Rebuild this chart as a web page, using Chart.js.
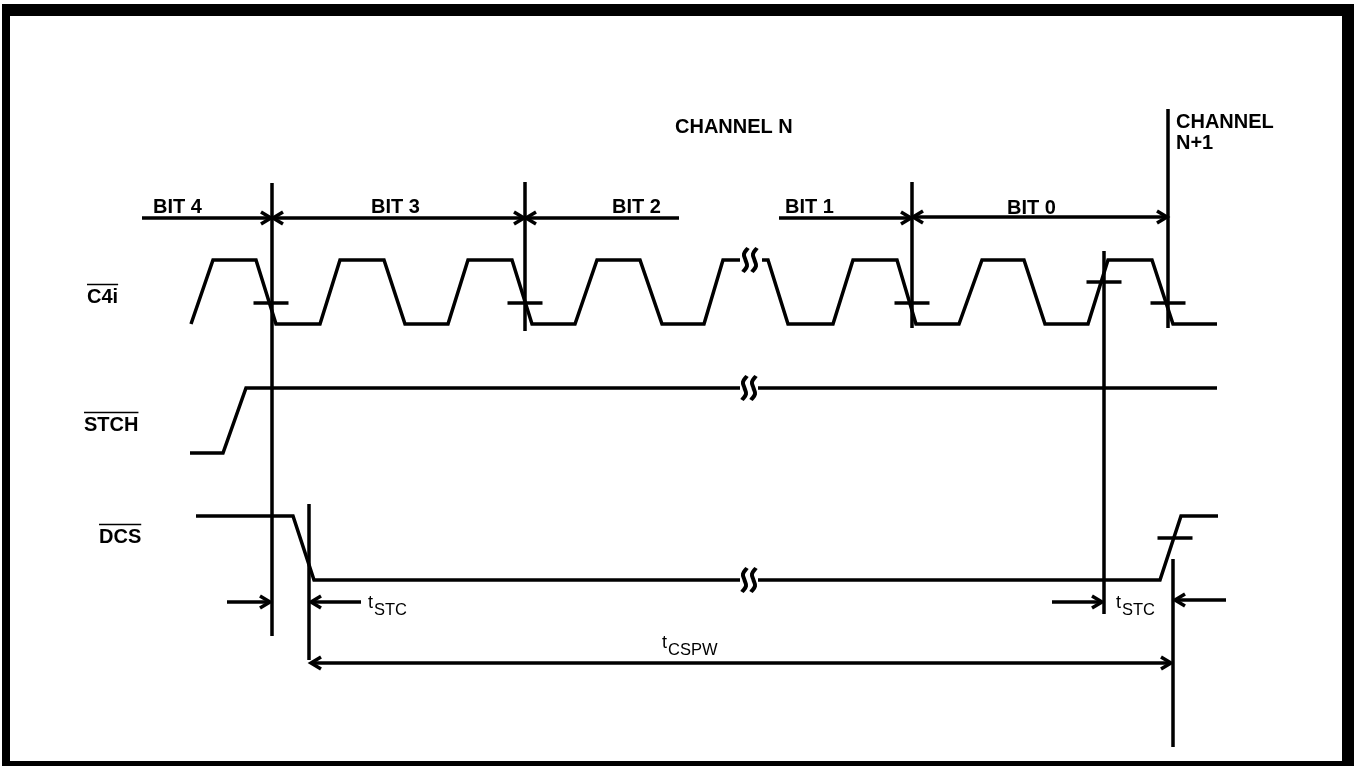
<!DOCTYPE html>
<html>
<head>
<meta charset="utf-8">
<script src="https://cdn.jsdelivr.net/npm/chart.js@4.4.0/dist/chart.umd.min.js"></script>
<style>
    html, body { margin: 0; padding: 0; background: #fff; }
    #wrap { position: relative; width: 1359px; height: 766px; overflow: hidden; }
    #frame {
        position: absolute; left: 2px; top: 4px; right: 5px; bottom: -2px;
        border-style: solid; border-color: #000;
        border-width: 12px 12px 7px 8px;
        pointer-events: none;
    }
    canvas { display: block; }
</style>
</head>
<body>
<div id="wrap">
    <canvas id="timing" width="1359" height="766"></canvas>
    <div id="frame"></div>
</div>
<script>
// Formas de onda: instante de cada flanco y nivel lógico (null = corte "≈")
const c4iTimes  = [191, 213, 256, 276, 320, 340, 384, 405, 448, 468, 512, 532, 575, 597, 640, 662, 704, 723, 740, 751, 762, 768, 788, 833, 853, 897, 916, 959, 982, 1024, 1045, 1088, 1108, 1152, 1173, 1217];
const c4iLevels = [0, 1, 1, 0, 0, 1, 1, 0, 0, 1, 1, 0, 0, 1, 1, 0, 0, 1, 1, null, 1, 1, 0, 0, 1, 1, 0, 0, 1, 1, 0, 0, 1, 1, 0, 0];
const stchTimes  = [190, 223, 246, 740, 749, 758, 1217];
const stchLevels = [0, 0, 1, 1, null, 1, 1];
const dcsTimes  = [196, 293, 314, 740, 749, 758, 1160, 1181, 1218];
const dcsLevels = [1, 1, 0, 0, null, 0, 0, 1, 1];

// Marcas de tiempo verticales
const markerX      = [272, 525, 912, 1104, 1168, 309, 1173];
const markerTop    = [183, 182, 182, 251, 109, 504, 559];
const markerBottom = [636, 331, 328, 614, 328, 660, 747];

// Cruces de umbral (pequeñas rayas horizontales)
const crossX = [271, 525, 912, 1104, 1168, 1175];
const crossY = [303, 303, 303, 282, 303, 538];

// Cotas: altura, desde, hasta, puntas
const dimY    = [218, 218, 218, 218, 217, 602, 602, 602, 600, 663];
const dimFrom = [142, 273, 526, 779, 913, 227, 361, 1052, 1226, 311];
const dimTo   = [271, 524, 679, 911, 1167, 270, 311, 1102, 1175, 1171];
const dimHeads = ['end', 'both', 'start', 'end', 'both', 'end', 'end', 'end', 'end', 'both'];

// Cortes "≈"
const breakX = [750, 749, 749];
const breakY = [260, 388, 580];

// Textos
const bitLabels  = ['BIT 4', 'BIT 3', 'BIT 2', 'BIT 1', 'BIT 0', 'CHANNEL N', 'CHANNEL', 'N+1'];
const signalNames = ['C4i', 'STCH', 'DCS'];
const timeLabels = ['STC', 'STC', 'CSPW'];

// Niveles de cada fila (alto / bajo)
const rows = {
    c4i:  { high: 260, low: 324 },
    stch: { high: 388, low: 453 },
    dcs:  { high: 516, low: 580 }
};

const layout = {
    bitPos:    [[153, 213], [371, 213], [612, 213], [785, 213], [1007, 214], [675, 133], [1176, 128], [1176, 149]],
    signalPos: [[87, 303], [84, 431], [99, 543]],
    timePos:   [[368, 608], [1116, 608], [662, 648]]
};

function wave(times, levels, row) {
    return times.map((t, i) => ({ x: t, y: levels[i] === null ? null : (levels[i] ? row.high : row.low) }));
}

function seg(points, width, tension) {
    return {
        data: points,
        showLine: true,
        borderColor: '#000',
        borderWidth: width || 3,
        pointRadius: 0,
        tension: tension || 0,
        spanGaps: false,
        borderCapStyle: 'butt',
        borderJoinStyle: 'miter'
    };
}

function head(tipX, y, dir) {
    return [{ x: tipX - dir * 10, y: y - 6 }, { x: tipX, y: y }, { x: tipX - dir * 10, y: y + 6 }];
}

const datasets = [];

datasets.push(seg(wave(c4iTimes, c4iLevels, rows.c4i), 3.5));
datasets.push(seg(wave(stchTimes, stchLevels, rows.stch), 3.5));
datasets.push(seg(wave(dcsTimes, dcsLevels, rows.dcs), 3.5));

markerX.forEach((mx, i) => {
    datasets.push(seg([{ x: mx, y: markerTop[i] }, { x: mx, y: markerBottom[i] }], 3.5));
});

crossX.forEach((cx, i) => {
    datasets.push(seg([{ x: cx - 17.5, y: crossY[i] }, { x: cx + 17.5, y: crossY[i] }], 3.5));
});

dimY.forEach((dy, i) => {
    const a = dimFrom[i], b = dimTo[i];
    const dir = b > a ? 1 : -1;
    datasets.push(seg([{ x: a, y: dy }, { x: b, y: dy }], 3.5));
    if (dimHeads[i] === 'end' || dimHeads[i] === 'both') datasets.push(seg(head(b, dy, dir), 3.5));
    if (dimHeads[i] === 'start' || dimHeads[i] === 'both') datasets.push(seg(head(a, dy, -dir), 3.5));
});

// dos "S" por cada corte
const sShape = [[2.5, -12], [-1.5, -6], [0, 0], [1.5, 6], [-2.5, 12]];
breakX.forEach((bx, i) => {
    [-4.5, 4.5].forEach(off => {
        datasets.push(seg(sShape.map(p => ({ x: bx + off + p[0], y: breakY[i] + p[1] })), 4, 0.4));
    });
});

const labelPlugin = {
    id: 'timingLabels',
    afterDatasetsDraw(chart) {
        const { ctx, scales: { x, y } } = chart;
        ctx.save();
        ctx.fillStyle = '#000';
        ctx.strokeStyle = '#000';
        ctx.textBaseline = 'alphabetic';
        ctx.textAlign = 'left';

        ctx.font = 'bold 20px "Liberation Sans", Arial, sans-serif';
        bitLabels.forEach((t, i) => {
            const p = layout.bitPos[i];
            ctx.fillText(t, x.getPixelForValue(p[0]), y.getPixelForValue(p[1]));
        });

        signalNames.forEach((t, i) => {
            const p = layout.signalPos[i];
            const px = x.getPixelForValue(p[0]), py = y.getPixelForValue(p[1]);
            ctx.fillText(t, px, py);
            const w = ctx.measureText(t).width;
            ctx.lineWidth = 1.5;
            ctx.beginPath();
            ctx.moveTo(px, py - 18.5);
            ctx.lineTo(px + w, py - 18.5);
            ctx.stroke();
        });

        timeLabels.forEach((t, i) => {
            const p = layout.timePos[i];
            const px = x.getPixelForValue(p[0]), py = y.getPixelForValue(p[1]);
            ctx.font = '18px "Liberation Sans", Arial, sans-serif';
            ctx.fillText('t', px, py);
            const tw = ctx.measureText('t').width;
            ctx.font = '16.5px "Liberation Sans", Arial, sans-serif';
            ctx.fillText(t, px + tw + 1, py + 7);
        });
        ctx.restore();
    }
};

new Chart(document.getElementById('timing').getContext('2d'), {
    type: 'scatter',
    data: { datasets: datasets },
    options: {
        responsive: false,
        animation: false,
        layout: { padding: 0 },
        scales: {
            x: { type: 'linear', min: 0, max: 1359, display: false },
            y: { type: 'linear', min: 0, max: 766, reverse: true, display: false }
        },
        plugins: {
            legend: { display: false },
            tooltip: { enabled: false }
        }
    },
    plugins: [labelPlugin]
});
</script>
</body>
</html>
